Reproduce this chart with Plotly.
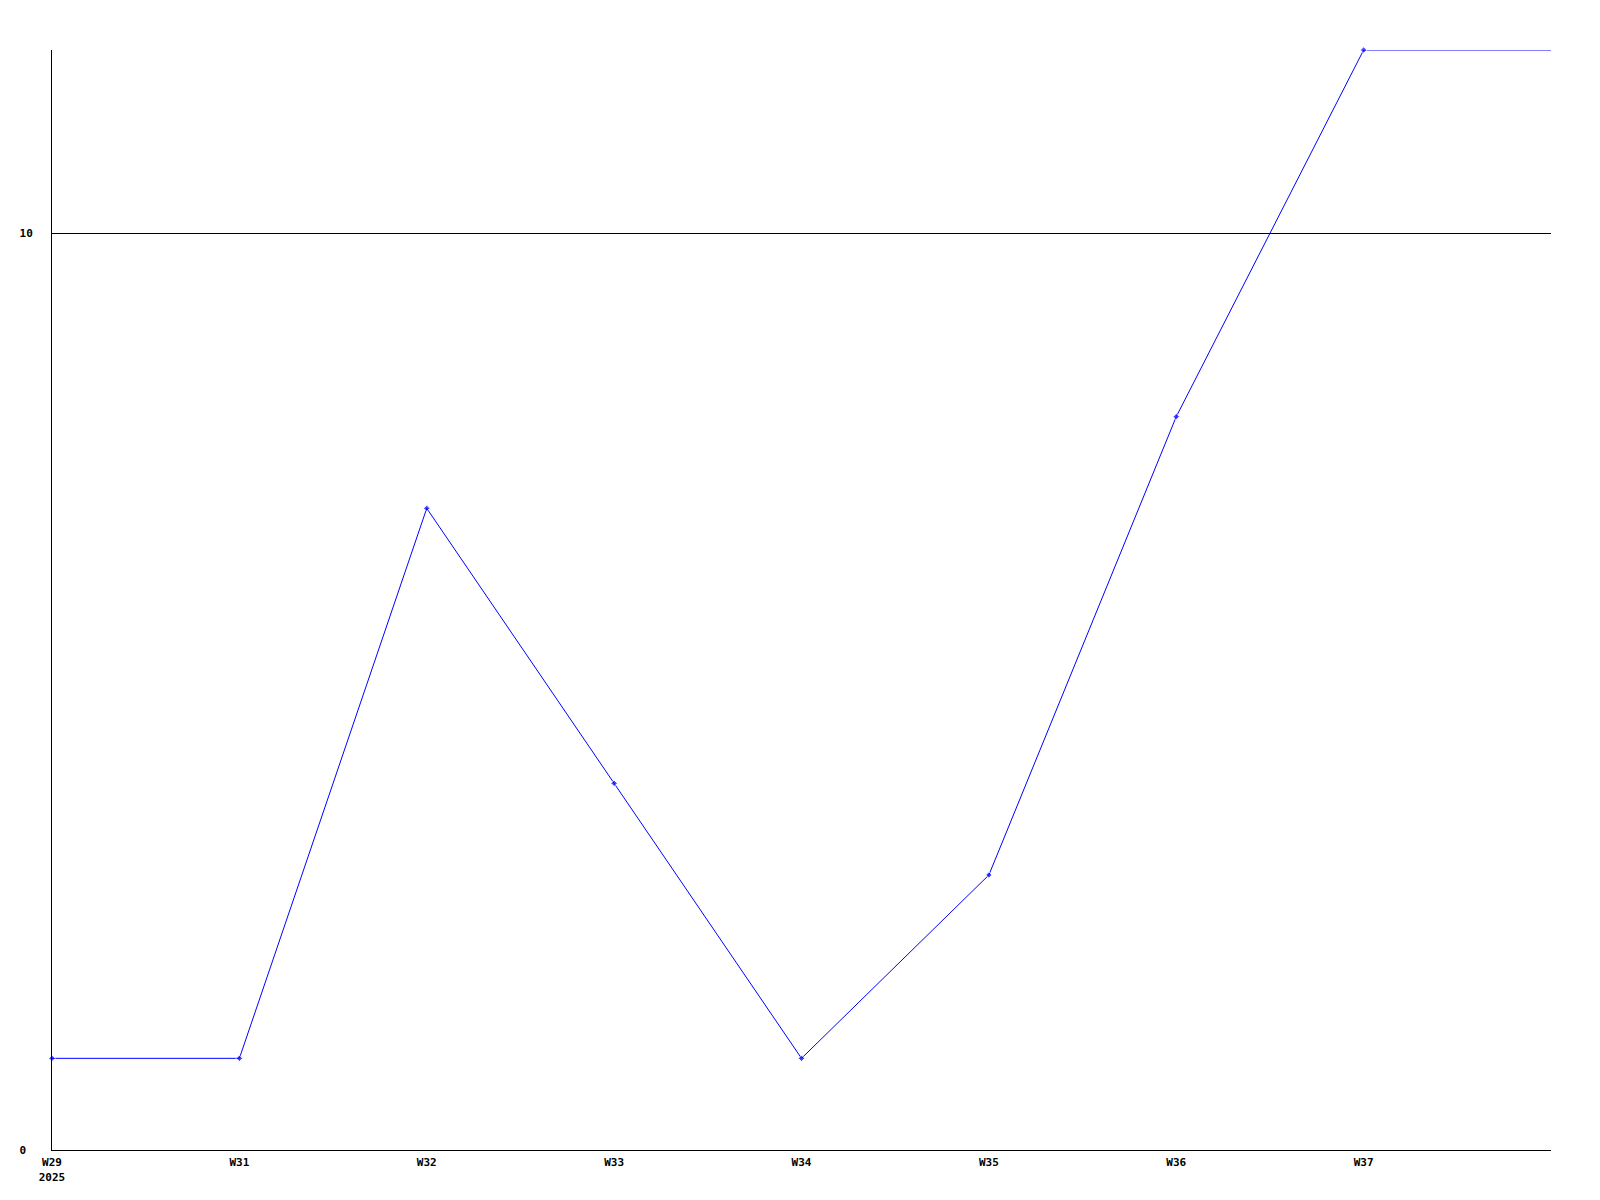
import plotly.graph_objects as go

# weekly values (last point carries the W37 value to the right edge)
weeks = ["W29<br>2025", "W31", "W32", "W33", "W34", "W35", "W36", "W37", ""]
values = [1, 1, 7, 4, 1, 3, 8, 12, 12]
y_ticks = [0, 10]
y_ticklabels = ["0\u00a0", "10"]

FONT = dict(family="DejaVu Sans Mono", size=11, color="#000000", weight="bold")

fig = go.Figure()
fig.add_trace(go.Scatter(
    x=list(range(len(values))),
    y=values,
    mode="lines+markers",
    line=dict(color="#0000ff", width=1),
    marker=dict(symbol="diamond", color="#0000ff",
                size=[5] * (len(values) - 1) + [0]),
    cliponaxis=False,
    showlegend=False,
))

# page body has an 8px default margin, so offsets are compensated here
fig.update_layout(
    width=1600,
    height=1200,
    paper_bgcolor="#ffffff",
    plot_bgcolor="#ffffff",
    margin=dict(l=42, r=57, t=42, b=58),
    font=FONT,
    xaxis=dict(
        range=[0, len(values) - 1],
        tickmode="array",
        tickvals=list(range(len(weeks))),
        ticktext=weeks,
        showgrid=False,
        zeroline=False,
        showline=True,
        linecolor="#000000",
        linewidth=1,
        ticks="",
        tickfont=FONT,
        ticklabelstandoff=2,
    ),
    yaxis=dict(
        range=[0, 12],
        tickmode="array",
        tickvals=y_ticks,
        ticktext=y_ticklabels,
        showgrid=True,
        gridcolor="#000000",
        gridwidth=1,
        zeroline=False,
        showline=True,
        linecolor="#000000",
        linewidth=1,
        ticks="",
        tickfont=FONT,
        ticklabelstandoff=16,
    ),
)

fig.write_html("out.html")
